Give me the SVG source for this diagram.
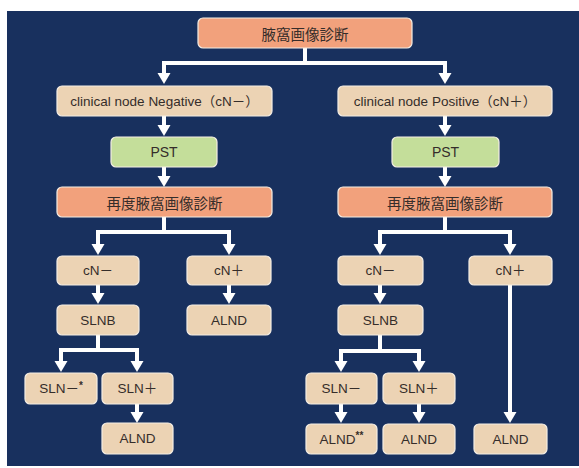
<svg xmlns="http://www.w3.org/2000/svg" width="579" height="468" viewBox="0 0 579 468">
  <style>
    .box rect { stroke: #f4ede4; stroke-width: 1.2; }
    .salmon rect { fill: #f2a17c; }
    .tan rect { fill: #ecd3b4; }
    .green rect { fill: #c4de9a; }
    text { font-family: "Liberation Sans", "Noto Sans CJK JP", sans-serif; font-size: 13.5px; fill: #352d2a; text-anchor: middle; dominant-baseline: central; }
    .jp { font-family: "Noto Sans CJK JP", sans-serif; font-size: 14.5px; }
    .sup { font-size: 10px; font-weight: bold; }
    .wire { fill: none; stroke: #ffffff; stroke-width: 4; marker-end: url(#ah); }
  </style>
  <defs>
    <marker id="ah" markerUnits="userSpaceOnUse" markerWidth="14" markerHeight="14" viewBox="0 0 12 14" refX="4" refY="7" orient="auto">
      <path d="M0,0.5 L11,7 L0,13.5 Z" fill="#ffffff"/>
    </marker>
  </defs>

  <!-- background panel -->
  <rect x="7" y="11" width="572" height="455" fill="#18305e"/>

  <!-- connectors -->
  <g id="connectors">
    <path class="wire" d="M305,48 V63 H164 V77"/>
    <path class="wire" d="M305,63 H445 V77"/>
    <!-- left branch -->
    <path class="wire" d="M164,116 V129"/>
    <path class="wire" d="M164,167 V180"/>
    <path class="wire" d="M164,217 V232 H98 V248"/>
    <path class="wire" d="M164,232 H229 V248"/>
    <path class="wire" d="M98,285 V297"/>
    <path class="wire" d="M229,285 V297"/>
    <path class="wire" d="M98,335 V350 H61 V365"/>
    <path class="wire" d="M98,350 H137 V365"/>
    <path class="wire" d="M137,404 V416"/>
    <!-- right branch -->
    <path class="wire" d="M445,116 V129"/>
    <path class="wire" d="M445,167 V180"/>
    <path class="wire" d="M445,217 V232 H380 V248"/>
    <path class="wire" d="M445,232 H510 V248"/>
    <path class="wire" d="M380,285 V297"/>
    <path class="wire" d="M510,285 V416"/>
    <path class="wire" d="M380,335 V351 H341 V365"/>
    <path class="wire" d="M380,351 H419 V365"/>
    <path class="wire" d="M341,404 V416"/>
    <path class="wire" d="M419,404 V416"/>
  </g>

  <!-- top -->
  <g id="n-axilla" class="box salmon">
    <rect x="198" y="18" width="214" height="30" rx="5"/>
    <text class="jp" x="305" y="33">腋窩画像診断</text>
  </g>

  <!-- left column -->
  <g id="n-cn-neg" class="box tan">
    <rect x="57" y="86" width="215" height="30" rx="5"/>
    <text x="164.5" y="101">clinical node Negative（cN－）</text>
  </g>
  <g id="n-pst-l" class="box green">
    <rect x="111" y="137" width="106" height="30" rx="5"/>
    <text x="164" y="152" style="font-size:14px">PST</text>
  </g>
  <g id="n-re-l" class="box salmon">
    <rect x="57" y="187" width="215" height="30" rx="5"/>
    <text class="jp" x="164.5" y="202">再度腋窩画像診断</text>
  </g>
  <g id="n-l-cnneg" class="box tan">
    <rect x="57" y="256" width="82" height="29" rx="5"/>
    <text x="98" y="270.5">cN－</text>
  </g>
  <g id="n-l-cnpos" class="box tan">
    <rect x="187" y="256" width="84" height="29" rx="5"/>
    <text x="229" y="270.5">cN＋</text>
  </g>
  <g id="n-l-slnb" class="box tan">
    <rect x="57" y="305" width="82" height="30" rx="5"/>
    <text x="98" y="320">SLNB</text>
  </g>
  <g id="n-l-alnd1" class="box tan">
    <rect x="187" y="305" width="84" height="30" rx="5"/>
    <text x="229" y="320">ALND</text>
  </g>
  <g id="n-l-slnneg" class="box tan">
    <rect x="25" y="373" width="72" height="31" rx="5"/>
    <text x="61" y="388.5">SLN－<tspan class="sup" dy="-4">*</tspan></text>
  </g>
  <g id="n-l-slnpos" class="box tan">
    <rect x="102" y="373" width="71" height="31" rx="5"/>
    <text x="137.5" y="388.5">SLN＋</text>
  </g>
  <g id="n-l-alnd2" class="box tan">
    <rect x="102" y="423" width="71" height="31" rx="5"/>
    <text x="137.5" y="438.5">ALND</text>
  </g>

  <!-- right column -->
  <g id="n-cn-pos" class="box tan">
    <rect x="338" y="86" width="214" height="30" rx="5"/>
    <text x="445" y="101">clinical node Positive（cN＋）</text>
  </g>
  <g id="n-pst-r" class="box green">
    <rect x="392" y="137" width="107" height="30" rx="5"/>
    <text x="445.5" y="152" style="font-size:14px">PST</text>
  </g>
  <g id="n-re-r" class="box salmon">
    <rect x="338" y="187" width="214" height="30" rx="5"/>
    <text class="jp" x="445" y="202">再度腋窩画像診断</text>
  </g>
  <g id="n-r-cnneg" class="box tan">
    <rect x="338" y="256" width="85" height="29" rx="5"/>
    <text x="380.5" y="270.5">cN－</text>
  </g>
  <g id="n-r-cnpos" class="box tan">
    <rect x="469" y="256" width="83" height="29" rx="5"/>
    <text x="510.5" y="270.5">cN＋</text>
  </g>
  <g id="n-r-slnb" class="box tan">
    <rect x="338" y="305" width="85" height="30" rx="5"/>
    <text x="380.5" y="320">SLNB</text>
  </g>
  <g id="n-r-slnneg" class="box tan">
    <rect x="306" y="373" width="71" height="31" rx="5"/>
    <text x="341.5" y="388.5">SLN－</text>
  </g>
  <g id="n-r-slnpos" class="box tan">
    <rect x="383" y="373" width="72" height="31" rx="5"/>
    <text x="419" y="388.5">SLN＋</text>
  </g>
  <g id="n-r-alnd1" class="box tan">
    <rect x="306" y="424" width="71" height="30" rx="5"/>
    <text x="341.5" y="439">ALND<tspan class="sup" dy="-4">**</tspan></text>
  </g>
  <g id="n-r-alnd2" class="box tan">
    <rect x="383" y="424" width="72" height="30" rx="5"/>
    <text x="419" y="439">ALND</text>
  </g>
  <g id="n-r-alnd3" class="box tan">
    <rect x="474" y="424" width="73" height="30" rx="5"/>
    <text x="510.5" y="439">ALND</text>
  </g>
</svg>
